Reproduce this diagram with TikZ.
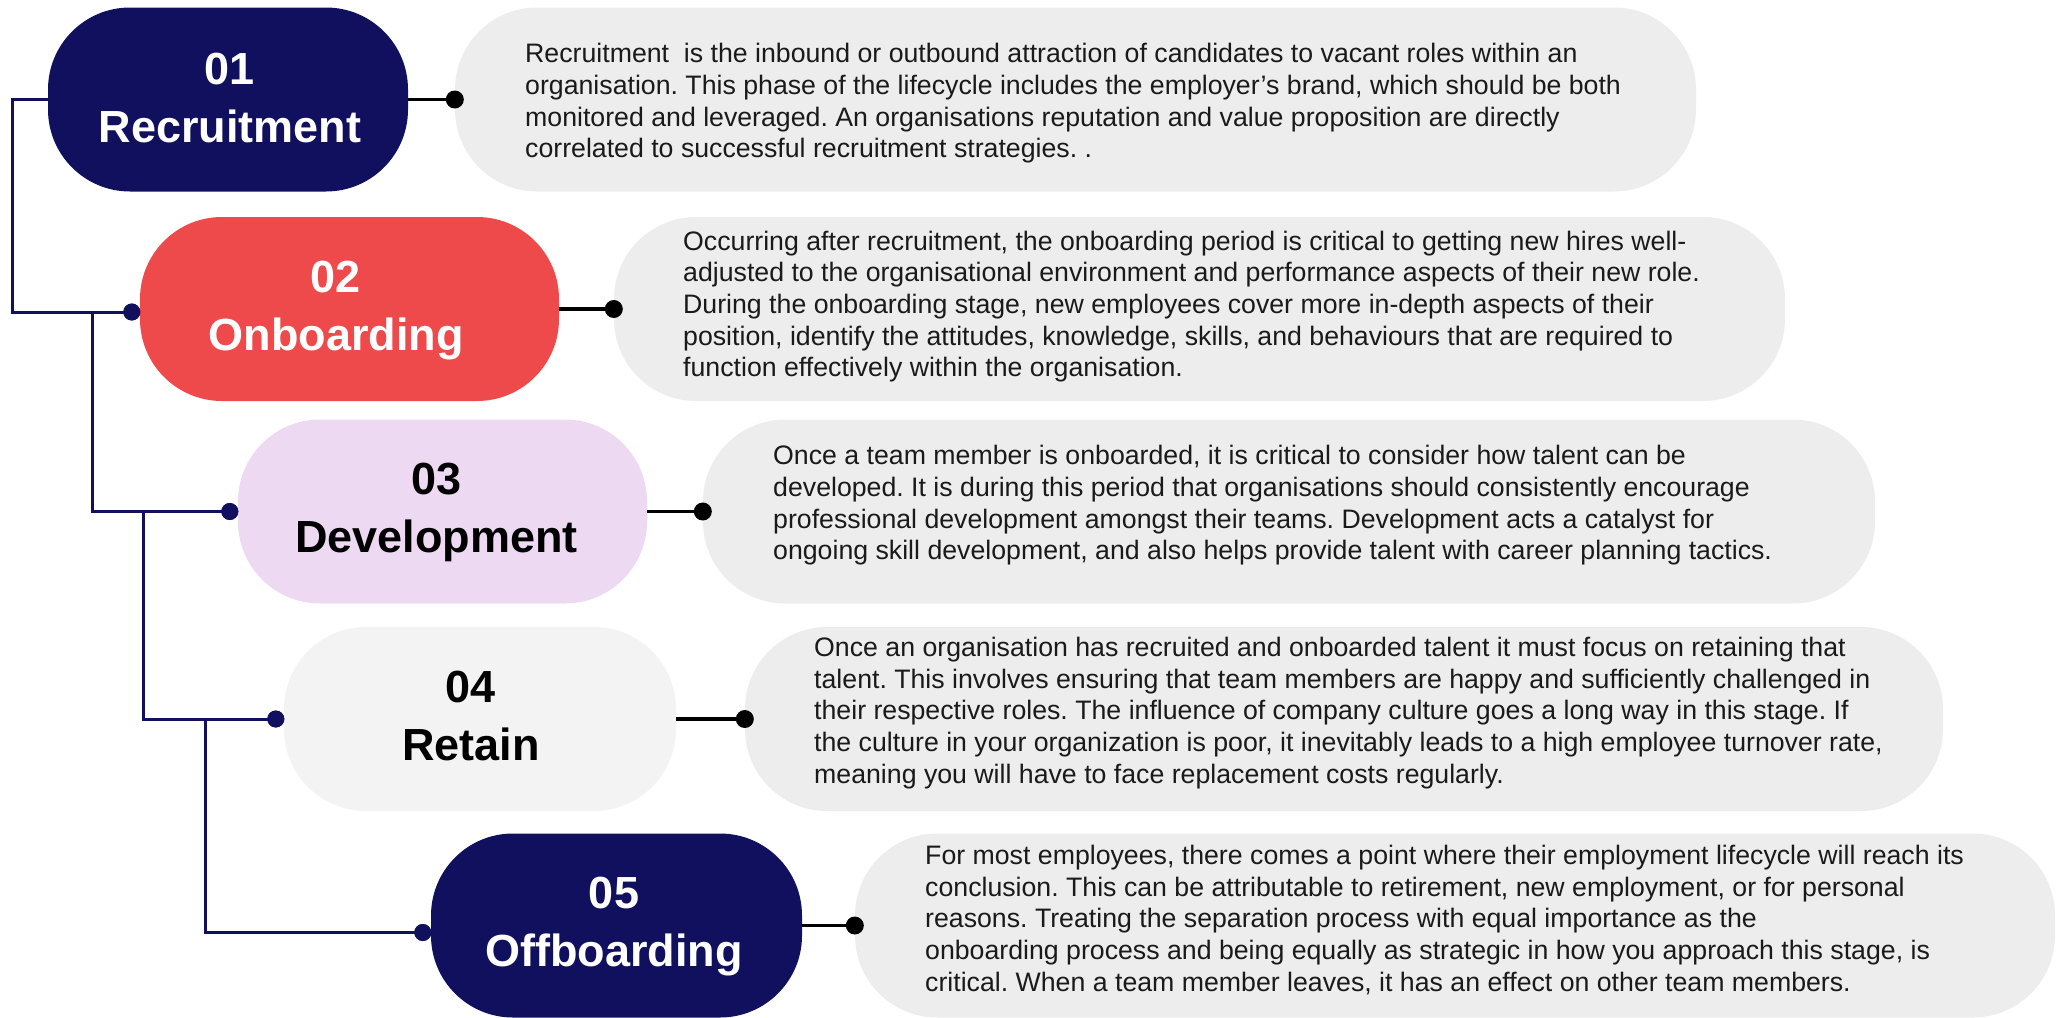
\documentclass[tikz,border=0pt]{standalone}
\usepackage{fontspec}
\setmainfont{Liberation Sans}
\usetikzlibrary{calc}
\definecolor{navy}{HTML}{10105E}
\definecolor{coral}{HTML}{EE4A4B}
\definecolor{lilac}{HTML}{EDD9F1}
\definecolor{pale}{HTML}{F3F3F3}
\definecolor{panel}{HTML}{EDEDED}
\definecolor{ink}{HTML}{1A1A1A}
\frenchspacing
\begin{document}
\begin{tikzpicture}[x=1pt,y=-1pt,
  pill/.style={rectangle, rounded corners=82pt, minimum height=184pt, inner sep=0pt},
  panelbox/.style={rectangle, rounded corners=82pt, minimum height=184pt, inner sep=0pt, fill=panel},
  title/.style={align=center, inner sep=0pt, text depth=7pt, font=\fontsize{45}{58}\selectfont\bfseries},
  body/.style={anchor=west, align=left, inner sep=0pt, text=ink, font=\fontsize{26.7}{31.7}\selectfont},
  ldot/.style={circle, fill=navy, inner sep=0pt, minimum size=17pt},
  rdot/.style={circle, fill=black, inner sep=0pt, minimum size=18pt},
  tree/.style={draw=navy, line width=3pt},
  link/.style={draw=black, line width=3.5pt}]
\useasboundingbox (0,0) rectangle (2063,1017);

% stage pills
\node[pill, fill=navy,  minimum width=360pt] (p1) at (228,99.5) {};
\node[pill, fill=coral, minimum width=419pt] (p2) at (349.5,309) {};
\node[pill, fill=lilac, minimum width=409pt] (p3) at (442.5,511.5) {};
\node[pill, fill=pale,  minimum width=392pt] (p4) at (480,719) {};
\node[pill, fill=navy,  minimum width=371pt] (p5) at (616.5,925.5) {};

\node[title, text=white] (t1) at (230,101) {01\\Recruitment};
\node[title, text=white] (t2) at (336,309) {02\\Onboarding};
\node[title, text=black] (t3) at (436.5,511.5) {03\\Development};
\node[title, text=black] (t4) at (471,719) {04\\Retain};
\node[title, text=white] (t5) at (614,925.5) {05\\Offboarding};

% description panels
\node[panelbox, minimum width=1241pt] (d1) at (1075.5,99.5) {};
\node[panelbox, minimum width=1171pt] (d2) at (1199.5,309) {};
\node[panelbox, minimum width=1172pt] (d3) at (1289,511.5) {};
\node[panelbox, minimum width=1198pt] (d4) at (1344,719) {};
\node[panelbox, minimum width=1200pt] (d5) at (1455,925.5) {};

\node[body] (b1) at (525,103.5) {Recruitment~ is the inbound or outbound attraction of candidates to vacant roles within an\\
organisation. This phase of the lifecycle includes the employer’s brand, which should be both\\
monitored and leveraged. An organisations reputation and value proposition are directly\\
correlated to successful recruitment strategies. .};
\node[body] (b2) at (683,306.5) {Occurring after recruitment, the onboarding period is critical to getting new hires well-\\
adjusted to the organisational environment and performance aspects of their new role.\\
During the onboarding stage, new employees cover more in-depth aspects of their\\
position, identify the attitudes, knowledge, skills, and behaviours that are required to\\
function effectively within the organisation.};
\node[body] (b3) at (773,505.5) {Once a team member is onboarded, it is critical to consider how talent can be\\
developed. It is during this period that organisations should consistently encourage\\
professional development amongst their teams. Development acts a catalyst for\\
ongoing skill development, and also helps provide talent with career planning tactics.};
\node[body] (b4) at (814,713) {Once an organisation has recruited and onboarded talent it must focus on retaining that\\
talent. This involves ensuring that team members are happy and sufficiently challenged in\\
their respective roles. The influence of company culture goes a long way in this stage. If\\
the culture in your organization is poor, it inevitably leads to a high employee turnover rate,\\
meaning you will have to face replacement costs regularly.};
\node[body] (b5) at (925,920) {For most employees, there comes a point where their employment lifecycle will reach its\\
conclusion. This can be attributable to retirement, new employment, or for personal\\
reasons. Treating the separation process with equal importance as the\\
onboarding process and being equally as strategic in how you approach this stage, is\\
critical. When a team member leaves, it has an effect on other team members.};

% junction columns of the left bracket
\coordinate (j0) at (12,0);
\coordinate (j1) at (92,0);
\coordinate (j2) at (143,0);
\coordinate (j3) at (205,0);

% left dots
\node[ldot] (l2) at ($(p2.west)+(-8,3)$) {};
\node[ldot] (l3) at ($(p3.west)+(-8,0)$) {};
\node[ldot] (l4) at ($(p4.west)+(-8,0)$) {};
\node[ldot] (l5) at ($(p5.west)+(-8,7)$) {};

% left bracket
\draw[tree] (p1.west) -- (p1.west -| j0) |- (l2.center);
\draw[tree] (l2.center -| j1) |- (l3.center);
\draw[tree] (l3.center -| j2) |- (l4.center);
\draw[tree] (l4.center -| j3) |- (l5.center);
\node[ldot] at (l2) {};
\node[ldot] at (l3) {};
\node[ldot] at (l4) {};
\node[ldot] at (l5) {};

% right dots and links
\foreach \i in {1,...,5} {
  \node[rdot] (r\i) at (d\i.west) {};
  \draw[link] (p\i.east) -- (r\i.center);
}
\end{tikzpicture}
\end{document}
